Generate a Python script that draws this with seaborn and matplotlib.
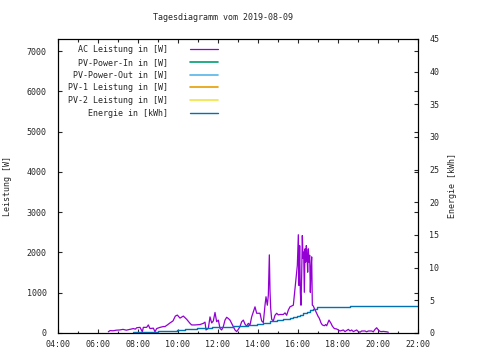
import pandas as pd
import matplotlib
matplotlib.use('Agg')
import matplotlib.pyplot as plt
import seaborn as sns

# AC Leistung [W]
ac_time = ['06:31', '06:36', '06:45', '06:55', '07:05', '07:15', '07:25', '07:35', '07:46', '07:52',
           '07:56', '08:06', '08:13', '08:16', '08:26', '08:31', '08:36', '08:46', '08:51', '08:56',
           '09:06', '09:16', '09:21', '09:28', '09:36', '09:45', '09:52', '09:58', '10:06', '10:16',
           '10:26', '10:36', '10:41', '10:51', '11:06', '11:16', '11:21', '11:24', '11:31', '11:36',
           '11:41', '11:46', '11:51', '11:56', '12:01', '12:06', '12:11', '12:16', '12:21', '12:26',
           '12:31', '12:36', '12:41', '12:46', '12:51', '12:56', '13:01', '13:06', '13:11', '13:16',
           '13:21', '13:26', '13:31', '13:36', '13:41', '13:46', '13:51', '13:56', '14:06', '14:11',
           '14:16', '14:21', '14:24', '14:28', '14:31', '14:34', '14:36', '14:38', '14:41', '14:46',
           '14:51', '14:56', '15:01', '15:06', '15:16', '15:21', '15:26', '15:31', '15:36', '15:46',
           '15:49', '15:52', '15:55', '15:58', '16:01', '16:03', '16:05', '16:07', '16:09', '16:11',
           '16:13', '16:15', '16:17', '16:19', '16:21', '16:23', '16:25', '16:27', '16:29', '16:31',
           '16:33', '16:35', '16:37', '16:39', '16:41', '16:43', '16:46', '16:49', '16:52', '16:56',
           '17:01', '17:03', '17:06', '17:09', '17:13', '17:19', '17:23', '17:26', '17:33', '17:36',
           '17:39', '17:43', '17:49', '17:56', '18:01', '18:06', '18:16', '18:21', '18:31', '18:36',
           '18:41', '18:46', '18:56', '19:01', '19:06', '19:11', '19:21', '19:26', '19:31', '19:41',
           '19:46', '19:51', '19:56', '20:01', '20:06', '20:11', '20:16', '20:26', '20:31']
ac_watt = [30, 60, 55, 70, 75, 90, 70, 90, 110, 95,
           130, 140, 30, 140, 140, 200, 110, 120, 30, 110,
           140, 160, 160, 200, 250, 300, 420, 445, 370, 420,
           340, 240, 200, 200, 210, 240, 270, 75, 115, 400,
           250, 300, 510, 280, 320, 115, 75, 160, 320, 390,
           360, 320, 240, 160, 75, 35, 90, 160, 280, 320,
           220, 170, 240, 200, 400, 525, 650, 490, 490, 300,
           260, 690, 900, 690, 940, 1940, 1050, 620, 340, 300,
           440, 490, 450, 460, 460, 500, 440, 570, 650, 690,
           940, 1180, 1430, 1680, 2440, 1180, 2170, 1010, 690, 1430,
           2420, 1850, 2010, 1010, 2090, 1760, 2170, 1930, 1510, 2090,
           1760, 1930, 1010, 1600, 1890, 690, 670, 610, 560, 490,
           400, 380, 320, 250, 200, 180, 210, 180, 320, 280,
           240, 170, 110, 100, 75, 50, 75, 35, 90, 50,
           75, 35, 75, 35, 20, 50, 50, 30, 50, 50,
           30, 90, 130, 75, 40, 35, 40, 30, 20]

# Energie [kWh]
energy_time = ['07:46', '09:00', '09:56', '10:21', '10:56', '11:41', '12:11', '12:46', '13:30', '13:56',
               '14:16', '14:36', '14:56', '15:16', '15:36', '15:46', '15:56', '16:06', '16:16', '16:26',
               '16:36', '16:46', '16:56', '17:26', '18:36', '22:00']
energy_kwh = [0.1, 0.25, 0.45, 0.55, 0.7, 0.85, 0.95, 1.1, 1.2, 1.4,
              1.6, 1.85, 2.0, 2.15, 2.35, 2.5, 2.6, 2.8, 3.0, 3.2,
              3.45, 3.75, 3.93, 4.05, 4.2, 4.2]

# series listed in the legend without any visible data
pv_in_time, pv_in_watt = [], []
pv_out_time, pv_out_watt = [], []
pv1_time, pv1_watt = [], []
pv2_time, pv2_watt = [], []


def to_hours(ts):
    return [int(t[:2]) + int(t[3:]) / 60 for t in ts]


ac = pd.DataFrame({'t': to_hours(ac_time), 'w': ac_watt})
en = pd.DataFrame({'t': to_hours(energy_time), 'kwh': energy_kwh})

sns.set_style('ticks')
plt.rcParams['font.family'] = ['DejaVu Sans Mono']
plt.rcParams['font.size'] = 6

fig = plt.figure(figsize=(4.8, 3.6), dpi=100)
ax = fig.add_axes([58 / 480, 27 / 360, 360 / 480, 294 / 360])

sns.lineplot(data=ac, x='t', y='w', ax=ax, color='#9400d3', lw=0.9, estimator=None,
             label='AC Leistung in [W]', legend=False)
ax.plot(pv_in_time, pv_in_watt, color='#009e73', lw=1.2, label='PV-Power-In in [W]')
ax.plot(pv_out_time, pv_out_watt, color='#56b4e9', lw=1.2, label='PV-Power-Out in [W]')
ax.plot(pv1_time, pv1_watt, color='#e69f00', lw=1.2, label='PV-1 Leistung in [W]')
ax.plot(pv2_time, pv2_watt, color='#f0e442', lw=1.2, label='PV-2 Leistung in [W]')

ax2 = ax.twinx()
sns.lineplot(data=en, x='t', y='kwh', ax=ax2, color='#0072b2', lw=1.0, estimator=None,
             drawstyle='steps-post', label='Energie in [kWh]', legend=False)

ax.set_xlim(4, 22)
ax.set_xticks(range(4, 23, 2))
ax.set_xticklabels([f'{h:02d}:00' for h in range(4, 23, 2)])
ax.set_xticks(range(5, 22, 2), minor=True)
ax.set_ylim(0, 7300)
ax.set_yticks(range(0, 7001, 1000))
ax2.set_ylim(0, 45)
ax2.set_yticks(range(0, 46, 5))

ax.tick_params(which='major', direction='in', length=3, width=0.8, top=True, right=True, pad=5)
ax.tick_params(axis='y', pad=8)
ax.tick_params(which='minor', direction='in', length=1.8, width=0.8, top=True)
ax2.tick_params(direction='in', length=3, width=0.8, pad=8)

for a in (ax, ax2):
    for s in a.spines.values():
        s.set_color('black')
        s.set_linewidth(0.8)

ax.set_xlabel('')
ax.set_ylabel('Leistung [W]')
ax.yaxis.set_label_coords(-0.128, 0.5)
ax2.set_ylabel('Energie [kWh]')
ax2.yaxis.set_label_coords(1.083, 0.5)

fig.text(223 / 480, 1 - 18 / 360, 'Tagesdiagramm vom 2019-08-09', ha='center', va='center')

handles = ax.get_lines() + ax2.get_lines()
labels = [h.get_label() for h in handles]
ax2.legend(handles, labels, loc='upper right', bbox_to_anchor=(218 / 480, 1 - 45 / 360),
           bbox_transform=fig.transFigure, markerfirst=False, frameon=False,
           handlelength=3.4, handletextpad=2.6, labelspacing=0.45, borderpad=0, borderaxespad=0)

fig.savefig('out.png', dpi=100)
